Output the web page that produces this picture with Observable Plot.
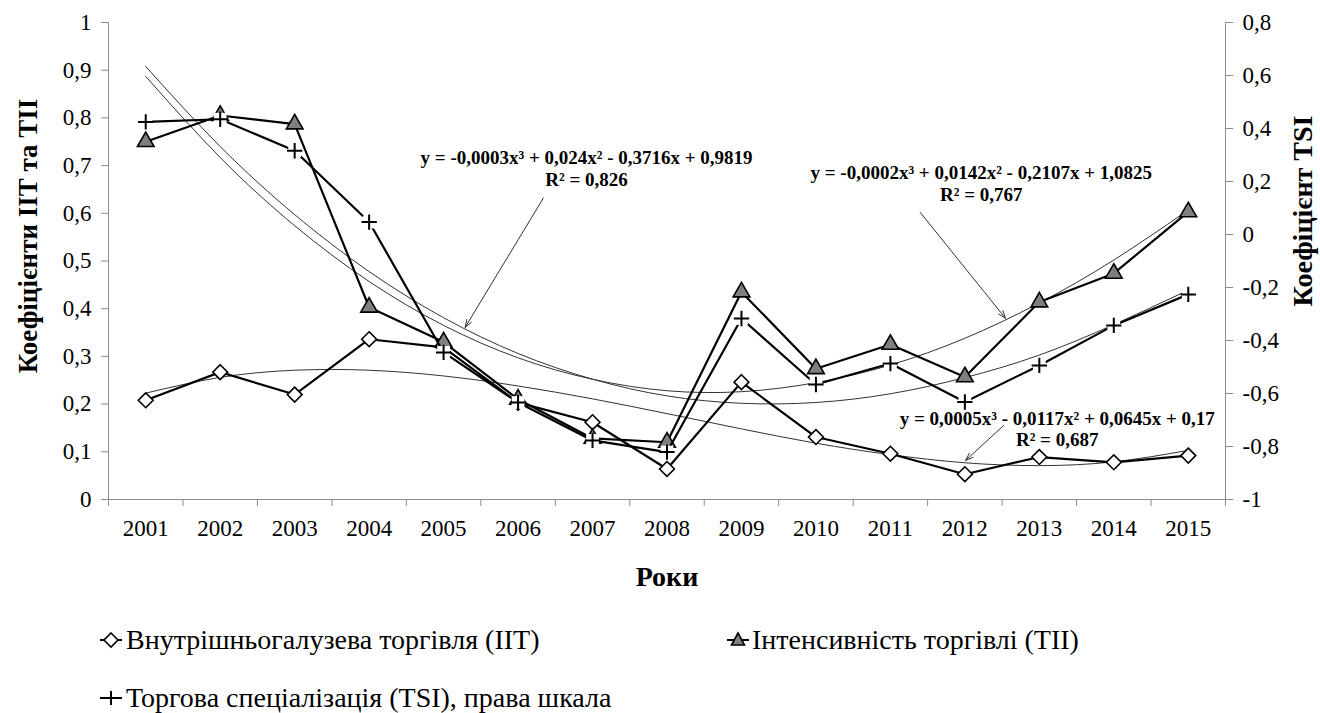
<!DOCTYPE html>
<html><head><meta charset="utf-8">
<script src="https://cdn.jsdelivr.net/npm/d3@7"></script>
<script src="https://cdn.jsdelivr.net/npm/@observablehq/plot@0.6"></script>
<style>
body{margin:0;background:#fff;}
#wrap{position:relative;width:1320px;height:713px;font-family:"Liberation Serif","Times New Roman",serif;}
.sym{position:absolute;}
.lt{position:absolute;font-size:28px;line-height:32px;white-space:nowrap;color:#000;}
</style></head><body><div id="wrap"></div>
<script>
// ---- data ----
const years = [2001,2002,2003,2004,2005,2006,2007,2008,2009,2010,2011,2012,2013,2014,2015];
const iit = [0.208,0.267,0.220,0.336,0.319,0.203,0.162,0.064,0.246,0.131,0.096,0.053,0.089,0.078,0.092];
const tii = [0.750,0.805,0.787,0.403,0.330,0.210,0.128,0.120,0.435,0.274,0.325,0.257,0.414,0.474,0.603];
const tsi = [0.425,0.435,0.316,0.047,-0.445,-0.634,-0.777,-0.821,-0.317,-0.566,-0.487,-0.632,-0.494,-0.343,-0.226];
// trend lines (cubic polynomial trends as drawn in the reference)
const iitTrend = [0.223,0.256,0.271,0.271,0.259,0.238,0.211,0.180,0.148,0.118,0.094,0.077,0.071,0.079,0.103];
const tiiTrend = [0.887,0.717,0.574,0.457,0.365,0.297,0.252,0.228,0.226,0.245,0.282,0.338,0.412,0.502,0.607];
const tsiTrend = [0.634,0.332,0.075,-0.140,-0.314,-0.449,-0.546,-0.609,-0.637,-0.634,-0.601,-0.540,-0.455,-0.340,-0.210];
// axes
const leftTicks = [0,0.1,0.2,0.3,0.4,0.5,0.6,0.7,0.8,0.9,1];
const rightTicks = [-1,-0.8,-0.6,-0.4,-0.2,0,0.2,0.4,0.6,0.8];
const leftDomain = [0,1];
const rightDomain = [-1,0.8];
const xDomain = [2000.5,2015.5];
const xTitle = "Роки";
const yTitleLeft = "Коефіцієнти ІІТ та ТІІ";
const yTitleRight = "Коефіцієнт TSI";
const seriesNames = ["Внутрішньогалузева торгівля (ІІТ)","Інтенсивність торгівлі (ТІІ)","Торгова спеціалізація (TSI), права шкала"];
// trend equations (annotations), positioned in data units
const notes = [
  {x:2006.92, y:0.716, text:"y = -0,0003x³ + 0,024x² - 0,3716x + 0,9819"},
  {x:2006.92, y:0.669, text:"R² = 0,826"},
  {x:2012.22, y:0.684, text:"y = -0,0002x³ + 0,0142x² - 0,2107x + 1,0825"},
  {x:2012.22, y:0.638, text:"R² = 0,767"},
  {x:2013.24, y:0.170, text:"y = 0,0005x³ - 0,0117x² + 0,0645x + 0,17"},
  {x:2013.24, y:0.124, text:"R² = 0,687"}
];
const pointers = [
  {x1:2006.34, y1:0.632, x2:2005.29, y2:0.361},
  {x1:2011.40, y1:0.602, x2:2012.545, y2:0.380},
  {x1:2012.52, y1:0.155, x2:2012.01, y2:0.082}
];

// ---- helpers ----
const toLeft = d3.scaleLinear().domain(rightDomain).range(leftDomain);
const fmt = v => String(+(+v).toFixed(1)).replace(".", ",");
const rows = (arr) => years.map((year,i)=>({year, value: arr[i]}));
const iitRows = rows(iit), tiiRows = rows(tii);
const tsiRows = rows(tsi).map(d => ({...d, left: toLeft(d.value)}));
const trendRows = [
  ...rows(iitTrend).map(d=>({...d, s:"iit", left:d.value})),
  ...rows(tiiTrend).map(d=>({...d, s:"tii", left:d.value})),
  ...rows(tsiTrend).map(d=>({...d, s:"tsi", left:toLeft(d.value)}))
];
const boundaries = years.map(y=>y-0.5).concat([years[years.length-1]+0.5]);
const axisGray = "#8c8c8c";

const chart = Plot.plot({
  width:1320, height:610,
  marginLeft:108, marginRight:95, marginTop:22, marginBottom:111,
  style:{fontFamily:'"Liberation Serif","Times New Roman",serif', fontSize:"23px", color:"#000", background:"#fff"},
  x:{type:"linear", domain:xDomain, axis:null},
  y:{type:"linear", domain:leftDomain, axis:null},
  marks:[
    Plot.ruleY([leftDomain[0]], {stroke:axisGray}),
    Plot.ruleX(xDomain, {stroke:axisGray}),
    Plot.axisY({anchor:"left", ticks:leftTicks, tickSize:7, tickPadding:10, tickFormat:fmt, fontSize:23, label:null}),
    Plot.axisY({anchor:"right", ticks:rightTicks.map(toLeft), tickSize:7, tickPadding:10, tickFormat:v=>fmt(toLeft.invert(v)), fontSize:23, label:null}),
    Plot.axisX({ticks:years, tickSize:0, tickPadding:20, tickFormat:d=>String(d), fontSize:23, label:null}),
    Plot.axisX({ticks:boundaries, tickSize:7, tickFormat:()=>"", label:null}),
    Plot.text([yTitleLeft], {text:d=>d, frameAnchor:"left", textAnchor:"middle", dx:-80, dy:-25, rotate:-90, fontWeight:"bold", fontSize:27}),
    Plot.text([yTitleRight], {text:d=>d, frameAnchor:"right", textAnchor:"middle", dx:78, dy:-50, rotate:-90, fontWeight:"bold", fontSize:28}),
    Plot.text([xTitle], {text:d=>d, frameAnchor:"bottom", dy:86, fontWeight:"bold", fontSize:28}),
    Plot.line(trendRows, {x:"year", y:"left", z:"s", curve:"natural", stroke:"#333", strokeWidth:1}),
    Plot.line(iitRows, {x:"year", y:"value", stroke:"#000", strokeWidth:2.2}),
    Plot.dot(iitRows, {x:"year", y:"value", symbol:"diamond2", r:6.7, fill:"#fff", stroke:"#000", strokeWidth:1.6}),
    Plot.line(tiiRows, {x:"year", y:"value", stroke:"#000", strokeWidth:2.2}),
    Plot.dot(tiiRows, {x:"year", y:"value", symbol:"triangle", r:6.2, fill:"#7f7f7f", stroke:"#000", strokeWidth:1.6}),
    Plot.line(tsiRows, {x:"year", y:"left", stroke:"#000", strokeWidth:2.2}),
    Plot.dot(tsiRows, {x:"year", y:"left", symbol:"square", r:7.2, fill:"#fff", stroke:"none"}),
    Plot.dot(tsiRows, {x:"year", y:"left", symbol:"plus", r:5, stroke:"#000", strokeWidth:2}),
    Plot.arrow(pointers, {x1:"x1", y1:"y1", x2:"x2", y2:"y2", stroke:"#333", strokeWidth:1, headLength:12, headAngle:40}),
    Plot.text(notes, {x:"x", y:"y", text:"text", fontSize:19, fontWeight:"bold"})
  ]
});
d3.select(chart).selectAll('[aria-label$="axis tick"]').attr("stroke", axisGray);
const wrap = document.getElementById("wrap");
chart.style.position = "absolute"; chart.style.left = "0px"; chart.style.top = "0px";
wrap.appendChild(chart);

// ---- legend (HTML below the SVG) ----
const legendItems = [
  {name:seriesNames[0], kind:"diamond", sx:111, tx:126, cy:640},
  {name:seriesNames[1], kind:"triangle", sx:738, tx:752, cy:640},
  {name:seriesNames[2], kind:"plus", sx:111, tx:126, cy:698}
];
for (const it of legendItems) {
  const s = d3.create("svg").attr("class","sym").attr("width",30).attr("height",24)
    .style("left",(it.sx-15)+"px").style("top",(it.cy-12)+"px");
  s.append("line").attr("x1",4).attr("x2",26).attr("y1",12).attr("y2",12).attr("stroke","#000").attr("stroke-width",2);
  if (it.kind==="diamond") s.append("path").attr("d","M15,5L22,12L15,19L8,12Z").attr("fill","#fff").attr("stroke","#000").attr("stroke-width",1.6);
  if (it.kind==="triangle") s.append("path").attr("d","M15,5L21.5,17L8.5,17Z").attr("fill","#7f7f7f").attr("stroke","#000").attr("stroke-width",1.6);
  if (it.kind==="plus") { s.append("rect").attr("x",8).attr("y",5).attr("width",14).attr("height",14).attr("fill","#fff");
    s.append("path").attr("d","M15,5V19M8,12H22").attr("stroke","#000").attr("stroke-width",2); }
  wrap.appendChild(s.node());
  const t = document.createElement("div");
  t.className = "lt"; t.textContent = it.name;
  t.style.left = it.tx+"px"; t.style.top = (it.cy-16)+"px";
  wrap.appendChild(t);
}
</script></body></html>
